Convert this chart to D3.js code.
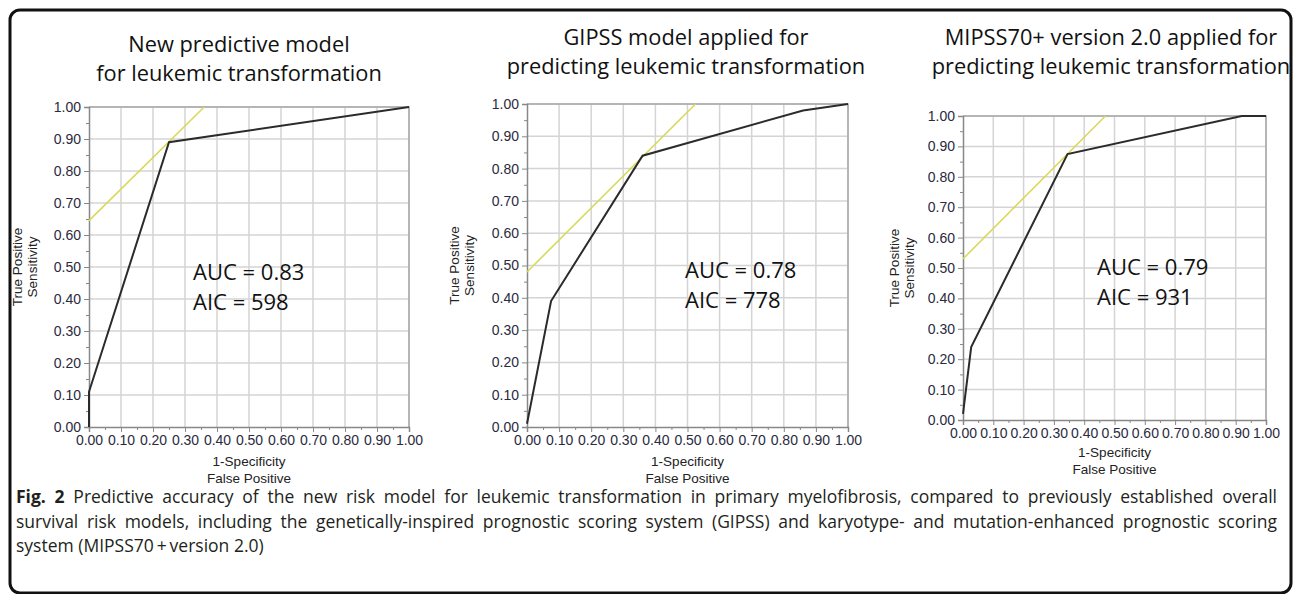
<!DOCTYPE html>
<html>
<head>
<meta charset="utf-8">
<script src="https://cdn.jsdelivr.net/npm/d3@7"></script>
<style>
  html, body { margin: 0; padding: 0; background: #fff; }
  svg { display: block; }
</style>
</head>
<body>
<div id="fig"></div>
<script>
// ROC curves (false positive rate vs sensitivity)
const fprNew = [0, 0, 0.25, 1];
const tprNew = [0, 0.11, 0.89, 1];
const fprGipss = [0, 0.075, 0.36, 0.86, 1];
const tprGipss = [0.01, 0.39, 0.84, 0.98, 1];
const fprMipss = [0, 0.027, 0.345, 0.92, 1];
const tprMipss = [0.02, 0.24, 0.875, 1, 1];

// yellow tangent lines, [start, end]
const tangentNew = [[0, 0.645], [0.36, 1]];
const tangentGipss = [[0, 0.48], [0.525, 1]];
const tangentMipss = [[0, 0.53], [0.47, 1]];

const aucValues = ["0.83", "0.78", "0.79"];
const aicValues = ["598", "778", "931"];

const titles = [
    ["New predictive model", "for leukemic transformation"],
    ["GIPSS model applied for", "predicting leukemic transformation"],
    ["MIPSS70+ version 2.0 applied for", "predicting leukemic transformation"]
];

const majorTicks = [0, 0.1, 0.2, 0.3, 0.4, 0.5, 0.6, 0.7, 0.8, 0.9, 1.0];
const minorTicks = [0.05, 0.15, 0.25, 0.35, 0.45, 0.55, 0.65, 0.75, 0.85, 0.95];

const captionBold = "Fig. 2";
const captionLines = [
    " Predictive accuracy of the new risk model for leukemic transformation in primary myelofibrosis, compared to previously established overall",
    "survival risk models, including the genetically-inspired prognostic scoring system (GIPSS) and karyotype- and mutation-enhanced prognostic scoring",
    "system (MIPSS70\u2009+\u2009version 2.0)"
];

const width = 1300, height = 594;

const svg = d3.select("#fig").append("svg")
    .attr("width", width)
    .attr("height", height);

// outer rounded frame
svg.append("rect")
    .attr("x", 10).attr("y", 10)
    .attr("width", 1281).attr("height", 583)
    .attr("rx", 10)
    .attr("fill", "none")
    .attr("stroke", "#111")
    .attr("stroke-width", 3);

// layout of each panel: plot box and where text goes
const panels = [
    { fpr: fprNew, tpr: tprNew, tangent: tangentNew,
      left: 89, top: 107, w: 320, h: 320,
      titleX: 239, titleY: [52, 81], aucX: 193, aucY: 280, yTitleX: 18, xTitleY: 466 },
    { fpr: fprGipss, tpr: tprGipss, tangent: tangentGipss,
      left: 527, top: 104, w: 321, h: 323,
      titleX: 686, titleY: [45, 74], aucX: 685, aucY: 278, yTitleX: 455, xTitleY: 466 },
    { fpr: fprMipss, tpr: tprMipss, tangent: tangentMipss,
      left: 963, top: 116, w: 303, h: 304,
      titleX: 1111, titleY: [45, 74], aucX: 1097, aucY: 275, yTitleX: 895, xTitleY: 457 }
];

const tickFont = "'Liberation Sans', Arial, sans-serif";
const tickColor = "#2a2a40";

function drawPanel(p, i) {
    const x = d3.scaleLinear().domain([0, 1]).range([p.left, p.left + p.w]);
    const y = d3.scaleLinear().domain([0, 1]).range([p.top + p.h, p.top]);

    const g = svg.append("g");

    // title
    const title = g.append("text")
        .attr("text-anchor", "middle")
        .style("font-family", "'Open Sans', sans-serif")
        .style("font-size", "21.8px")
        .attr("fill", "#111");
    titles[i].forEach((t, k) => {
        title.append("tspan")
            .attr("x", p.titleX)
            .attr("y", p.titleY[k])
            .text(t);
    });

    // grid
    g.append("g").selectAll("line")
        .data(majorTicks.slice(1))
        .join("line")
        .attr("x1", d => x(d)).attr("x2", d => x(d))
        .attr("y1", y(0)).attr("y2", y(1))
        .attr("stroke", "#d4d4d4").attr("stroke-width", 1.5);
    g.append("g").selectAll("line")
        .data(majorTicks.slice(1))
        .join("line")
        .attr("x1", x(0)).attr("x2", x(1))
        .attr("y1", d => y(d)).attr("y2", d => y(d))
        .attr("stroke", "#d4d4d4").attr("stroke-width", 1.5);

    // frame top/right
    g.append("path")
        .attr("d", `M${x(0)},${y(1)}H${x(1)}V${y(0)}`)
        .attr("fill", "none")
        .attr("stroke", "#a8a8a8")
        .attr("stroke-width", 1.5);

    // minor ticks
    g.append("g")
        .attr("transform", `translate(0,${y(0)})`)
        .call(d3.axisBottom(x).tickValues(minorTicks).tickSize(3).tickFormat(""))
        .call(a => a.select(".domain").remove())
        .selectAll("line").attr("stroke", "#888");
    g.append("g")
        .attr("transform", `translate(${x(0)},0)`)
        .call(d3.axisLeft(y).tickValues(minorTicks).tickSize(3).tickFormat(""))
        .call(a => a.select(".domain").remove())
        .selectAll("line").attr("stroke", "#888");

    // major axes
    const xAxis = g.append("g")
        .attr("transform", `translate(0,${y(0)})`)
        .call(d3.axisBottom(x).tickValues(majorTicks).tickSize(5).tickPadding(3).tickFormat(d3.format(".2f")));
    const yAxis = g.append("g")
        .attr("transform", `translate(${x(0)},0)`)
        .call(d3.axisLeft(y).tickValues(majorTicks).tickSize(5).tickPadding(3).tickFormat(d3.format(".2f")));
    [xAxis, yAxis].forEach(a => {
        a.select(".domain").attr("stroke", "#888").attr("stroke-width", 1.5);
        a.selectAll(".tick line").attr("stroke", "#888");
        a.selectAll(".tick text")
            .attr("fill", tickColor)
            .style("font-family", tickFont)
            .style("font-size", "14px");
    });

    // tangent (yellow)
    g.append("line")
        .attr("x1", x(p.tangent[0][0])).attr("y1", y(p.tangent[0][1]))
        .attr("x2", x(p.tangent[1][0])).attr("y2", y(p.tangent[1][1]))
        .attr("stroke", "#d9d95a")
        .attr("stroke-width", 1.6);

    // ROC curve
    const pts = p.fpr.map((f, k) => [f, p.tpr[k]]);
    g.append("path")
        .datum(pts)
        .attr("d", d3.line().x(d => x(d[0])).y(d => y(d[1])))
        .attr("fill", "none")
        .attr("stroke", "#2b2b2b")
        .attr("stroke-width", 2);

    // axis titles
    const xt = g.append("text")
        .attr("text-anchor", "middle")
        .attr("fill", "#222")
        .style("font-family", tickFont)
        .style("font-size", "13.5px");
    ["1-Specificity", "False Positive"].forEach((t, k) => {
        xt.append("tspan")
            .attr("x", x(0.5))
            .attr("y", p.xTitleY + k * 17)
            .text(t);
    });
    const yt = g.append("text")
        .attr("text-anchor", "middle")
        .attr("fill", "#222")
        .attr("transform", `translate(${p.yTitleX + 4},${y(0.5)}) rotate(-90)`)
        .style("font-family", tickFont)
        .style("font-size", "13.5px");
    ["True Positive", "Sensitivity"].forEach((t, k) => {
        yt.append("tspan")
            .attr("x", 0)
            .attr("y", k * 15)
            .text(t);
    });

    // AUC / AIC annotation
    const ann = g.append("text")
        .attr("fill", "#111")
        .style("font-family", "'Open Sans', sans-serif")
        .style("font-size", "22px");
    ann.append("tspan").attr("x", p.aucX).attr("y", p.aucY).text("AUC = " + aucValues[i]);
    ann.append("tspan").attr("x", p.aucX).attr("y", p.aucY + 30).text("AIC = " + aicValues[i]);
}

panels.forEach(drawPanel);

// caption, first two lines justified
const capX = 16, capRight = 1277;
captionLines.forEach((line, k) => {
    const t = svg.append("text")
        .attr("x", capX)
        .attr("y", 503 + k * 24.5)
        .attr("fill", "#231f20")
        .style("font-family", "'Open Sans', sans-serif")
        .style("font-size", "17.5px");
    if (k === 0) {
        t.append("tspan").style("font-weight", "bold").text(captionBold);
    }
    t.append("tspan").text(line);
    if (k < 2) {
        const len = t.node().getComputedTextLength();
        const spaces = (line.match(/ /g) || []).length + (k === 0 ? 1 : 0);
        t.style("word-spacing", ((capRight - capX - len) / spaces) + "px");
    }
});
</script>
</body>
</html>
